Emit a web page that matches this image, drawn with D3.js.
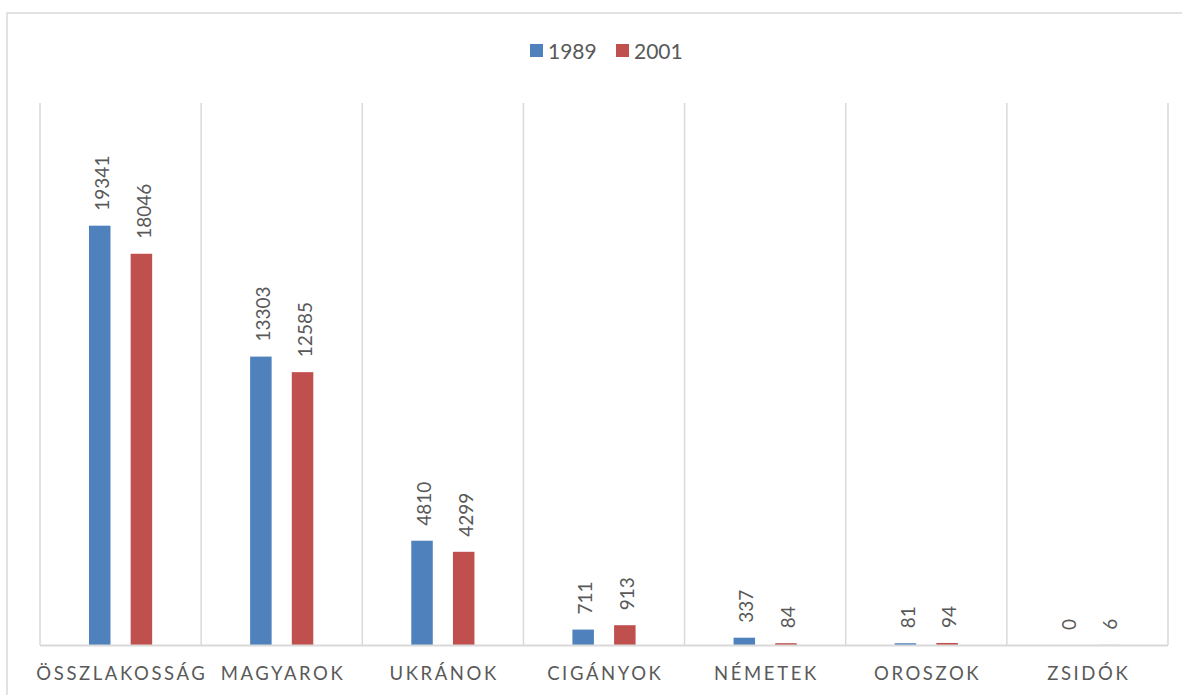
<!DOCTYPE html>
<html><head><meta charset="utf-8">
<script src="https://cdn.jsdelivr.net/npm/d3@7"></script>
<style>
html,body{margin:0;padding:0;background:#fff;}
svg{display:block;font-family:Lato,"Open Sans",sans-serif;}
</style></head>
<body>
<svg id="c" width="1182" height="695"></svg>
<script>
const categories = ["ÖSSZLAKOSSÁG","MAGYAROK","UKRÁNOK","CIGÁNYOK","NÉMETEK","OROSZOK","ZSIDÓK"];
const seriesNames = ["1989","2001"];
const values1989 = [19341,13303,4810,711,337,81,0];
const values2001 = [18046,12585,4299,913,84,94,6];
const colors = ["#4f81bd","#c0504d"];
const yMax = 25000;

const svg = d3.select("#c");
const plot = {left:40, right:1168, top:103, bottom:645};

svg.append("rect").attr("x",7).attr("y",13).attr("width",1190).attr("height",700)
  .attr("fill","none").attr("stroke","#d9d9d9").attr("stroke-width",1.5);

const x0 = d3.scaleBand().domain(categories).range([plot.left, plot.right]).padding(0);
const bw = x0.bandwidth();
const x1 = d3.scaleBand().domain(seriesNames)
  .range([bw*(0.5-0.196), bw*(0.5+0.196)]).paddingInner(0.484).paddingOuter(0);
const y = d3.scaleLinear().domain([0,yMax]).range([plot.bottom, plot.top]);

// vertical gridlines at category boundaries
const bounds = categories.map(c => x0(c)).concat([plot.right]);
svg.append("g").selectAll("line").data(bounds).join("line")
  .attr("x1",d=>d).attr("x2",d=>d).attr("y1",plot.top).attr("y2",plot.bottom)
  .attr("stroke","#d9d9d9").attr("stroke-width",1.5);

const data = categories.map((c,i)=>({cat:c, vals:[
  {s:seriesNames[0], v:values1989[i], col:colors[0]},
  {s:seriesNames[1], v:values2001[i], col:colors[1]}]}));

const g = svg.append("g").selectAll("g").data(data).join("g")
  .attr("transform",d=>`translate(${x0(d.cat)},0)`);

g.selectAll("rect").data(d=>d.vals).join("rect")
  .attr("x",d=>x1(d.s)).attr("width",x1.bandwidth())
  .attr("y",d=>y(d.v))
  .attr("height",d=>plot.bottom - y(d.v))
  .attr("fill",d=>d.col);

// baseline
svg.append("line").attr("x1",plot.left).attr("x2",plot.right)
  .attr("y1",plot.bottom+0.5).attr("y2",plot.bottom+0.5)
  .attr("stroke","#d9d9d9").attr("stroke-width",2);

g.selectAll("text").data(d=>d.vals).join("text")
  .attr("transform",d=>`translate(${x1(d.s)+x1.bandwidth()/2+2.5},${y(d.v)-15}) rotate(-90)`)
  .attr("dy","0.35em")
  .attr("font-size",19).attr("fill","#595959")
  .text(d=>d.v);

// category labels
svg.append("g").selectAll("text").data(categories).join("text")
  .attr("x",d=>x0(d)+bw/2+1.3).attr("y",680)
  .attr("text-anchor","middle").attr("font-size",18.5).attr("fill","#595959")
  .attr("letter-spacing","2.6px")
  .text(d=>d);

// legend
const leg = svg.append("g");
const legX = [530, 616];
seriesNames.forEach((s,i)=>{
  leg.append("rect").attr("x",legX[i]).attr("y",44).attr("width",13).attr("height",13).attr("fill",colors[i]);
  leg.append("text").attr("x",legX[i]+18).attr("y",59).attr("font-size",21).attr("fill","#595959").text(s);
});
</script>
</body></html>
